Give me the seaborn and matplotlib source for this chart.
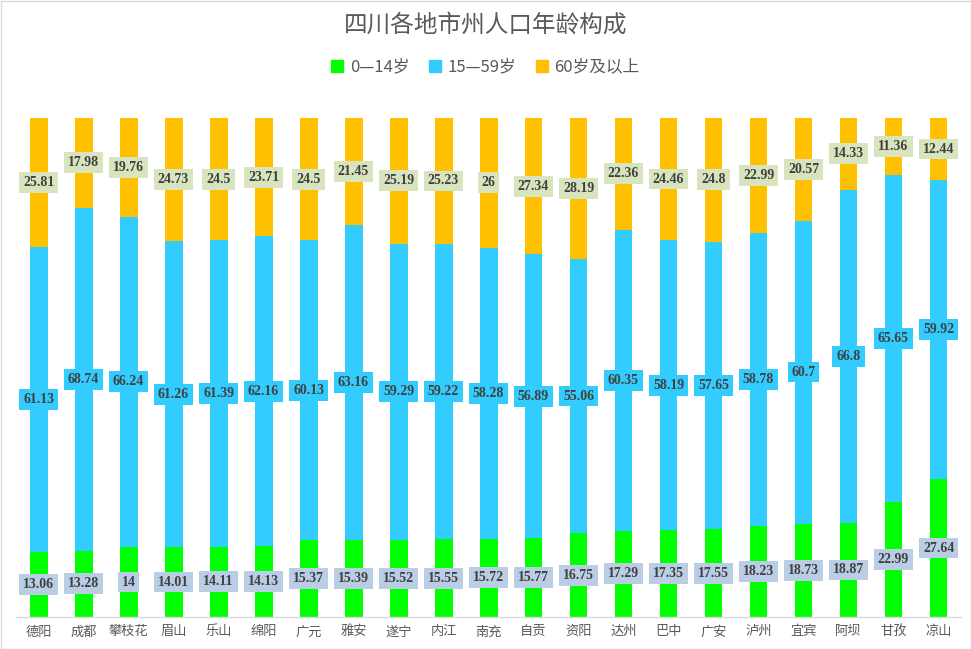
import matplotlib
matplotlib.use("Agg")
import matplotlib.pyplot as plt
import seaborn as sns
import numpy as np
import pandas as pd
from matplotlib.patches import Patch

cities = ["德阳","成都","攀枝花","眉山","乐山","绵阳","广元","雅安","遂宁","内江","南充",
          "自贡","资阳","达州","巴中","广安","泸州","宜宾","阿坝","甘孜","凉山"]
age_0_14 = [13.06,13.28,14,14.01,14.11,14.13,15.37,15.39,15.52,15.55,15.72,15.77,16.75,
            17.29,17.35,17.55,18.23,18.73,18.87,22.99,27.64]
age_15_59 = [61.13,68.74,66.24,61.26,61.39,62.16,60.13,63.16,59.29,59.22,58.28,56.89,55.06,
             60.35,58.19,57.65,58.78,60.7,66.8,65.65,59.92]
age_60 = [25.81,17.98,19.76,24.73,24.5,23.71,24.5,21.45,25.19,25.23,26,27.34,28.19,
          22.36,24.46,24.8,22.99,20.57,14.33,11.36,12.44]
series_names = ["0—14岁", "15—59岁", "60岁及以上"]

sns.set_theme(style="white")
plt.rcParams['font.family'] = ['Noto Sans CJK SC', 'DejaVu Sans']

c_green, c_blue, c_orange = "#00FF00", "#33CCFF", "#FFC000"
box_green, box_blue, box_orange = "#B9CDE5", "#33CCFF", "#D7E4BD"

df = pd.DataFrame({"city": cities, "a": age_0_14, "b": age_15_59, "c": age_60})
df["ab"] = df["a"] + df["b"]
df["abc"] = df["ab"] + df["c"]

fig = plt.figure(figsize=(9.71, 6.49), dpi=100)
ax = fig.add_axes([16/971, 1-617/649, 945/971, (617-118)/649])

sns.barplot(data=df, x="city", y="abc", color=c_orange, width=0.4, ax=ax, saturation=1)
sns.barplot(data=df, x="city", y="ab", color=c_blue, width=0.4, ax=ax, saturation=1)
sns.barplot(data=df, x="city", y="a", color=c_green, width=0.4, ax=ax, saturation=1)

for p in ax.patches:
    p.set_edgecolor("none")
    p.set_linewidth(0)

lab_font = dict(family="Liberation Serif", fontweight="bold", fontsize=10, color="#404040",
                ha="center", va="center")
for i in range(len(cities)):
    a, b, c = age_0_14[i], age_15_59[i], age_60[i]
    for val, y, bc in [(a, a/2, box_green), (b, a + b/2, box_blue), (c, a + b + c/2, box_orange)]:
        ax.text(i, y, f"{val:g}", bbox=dict(boxstyle="square,pad=0.28", fc=bc, ec="none"), **lab_font)

ax.set_ylim(0, 100)
ax.set_xlim(-0.5, len(cities) - 0.5)
ax.set_yticks([])
ax.set_xlabel("")
ax.set_ylabel("")
for s in ["left", "right", "top"]:
    ax.spines[s].set_visible(False)
ax.spines["bottom"].set_color("#D9D9D9")
ax.spines["bottom"].set_linewidth(1)
ax.set_xticks(np.arange(len(cities)))
ax.set_xticklabels(cities, fontsize=9.5, color="#595959")
ax.set_xticks(np.arange(len(cities) + 1) - 0.5, minor=True)
ax.tick_params(axis="x", which="major", length=0, pad=6)
ax.tick_params(axis="x", which="minor", length=5, color="#D9D9D9", width=1, direction="out")

fig.text(0.5, 1 - 25/649, "四川各地市州人口年龄构成", ha="center", va="center",
         fontsize=17, color="#595959")
handles = [Patch(color=c_green), Patch(color=c_blue), Patch(color=c_orange)]
fig.legend(handles, series_names, loc="center", bbox_to_anchor=(0.5, 1 - 67/649), ncol=3,
           frameon=False, fontsize=12, handlelength=0.7, handleheight=0.7,
           columnspacing=1.2, handletextpad=0.4, labelcolor="#595959")

border = plt.Rectangle((0.5/971, 0.5/649), 1 - 1/971, 1 - 1/649, transform=fig.transFigure,
                       fill=False, ec="#D9D9D9", lw=1)
fig.patches.append(border)

fig.savefig("out.png", dpi=100, facecolor="white")
